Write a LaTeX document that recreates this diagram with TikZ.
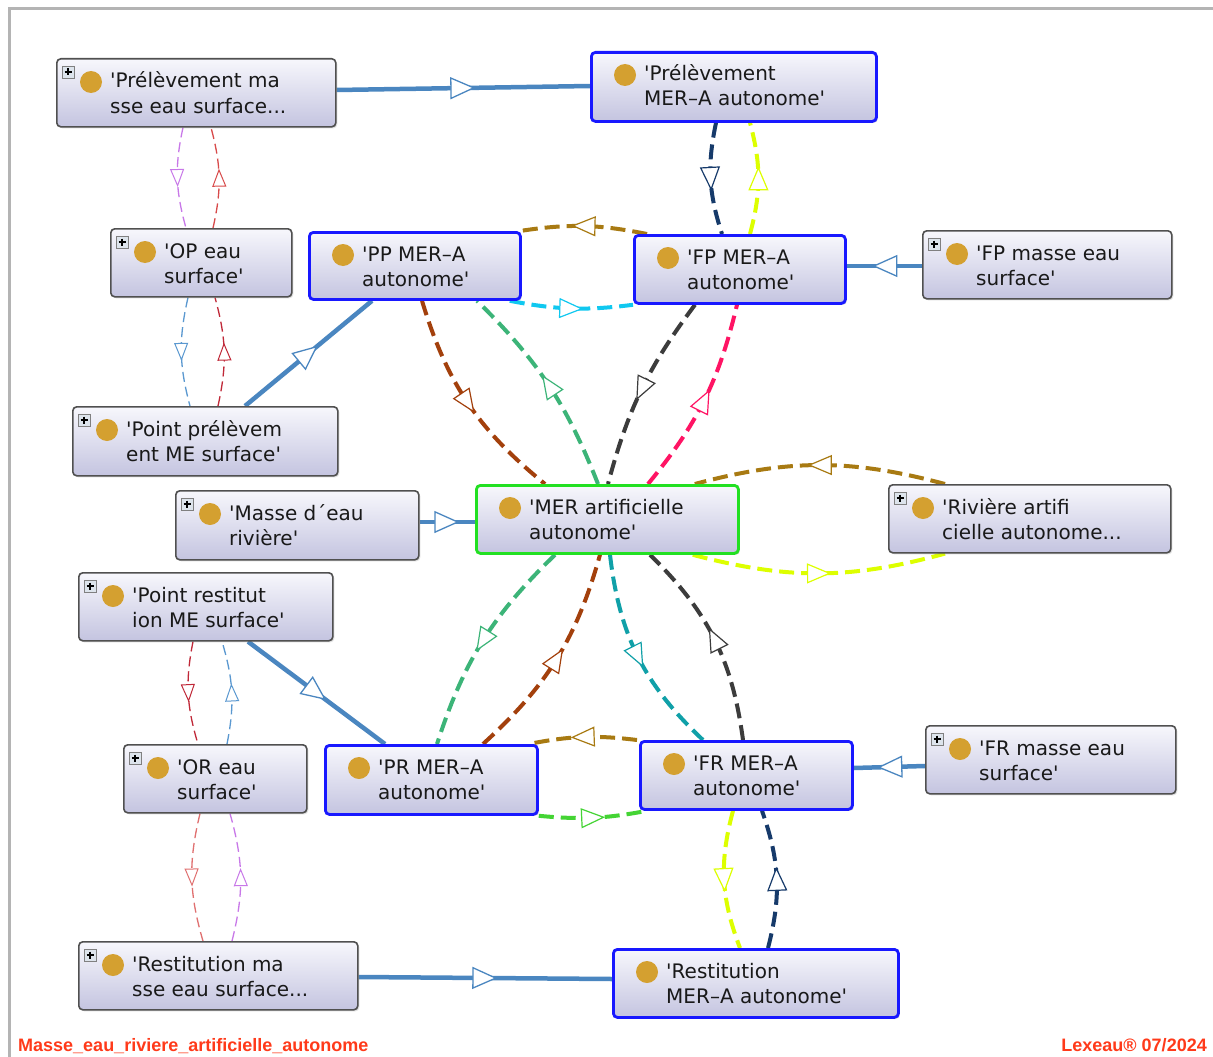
\documentclass[tikz,border=0pt]{standalone}
\usepackage{fontspec}
\setmainfont{DejaVu Sans}[Ligatures=TeXOff]
\newfontfamily\footf{Liberation Sans}[Ligatures=TeXOff]
\usetikzlibrary{arrows.meta,decorations.markings,calc,shadows}
\definecolor{cnavy}{HTML}{163A6A}
\definecolor{cyel}{HTML}{DDFF00}
\definecolor{cgold}{HTML}{A87A12}
\definecolor{ccyan}{HTML}{10C8F0}
\definecolor{cbrown}{HTML}{A3400C}
\definecolor{cgreen}{HTML}{3CB478}
\definecolor{cgray}{HTML}{3C3C3C}
\definecolor{cpink}{HTML}{FF1464}
\definecolor{cteal}{HTML}{10A0A8}
\definecolor{cbgreen}{HTML}{44D434}
\definecolor{cpurple}{HTML}{C878E8}
\definecolor{cred}{HTML}{D84A4A}
\definecolor{cdred}{HTML}{C02838}
\definecolor{clred}{HTML}{E07070}
\definecolor{cblue}{HTML}{5A98D0}
\definecolor{cconn}{HTML}{4A86C0}
\definecolor{dotc}{HTML}{D4A030}
\definecolor{boxtop}{HTML}{F7F7FC}
\definecolor{boxbot}{HTML}{C4C4E0}
\definecolor{grayb}{HTML}{505050}
\definecolor{blueb}{HTML}{1818FF}
\definecolor{greenb}{HTML}{22E022}
\definecolor{footred}{HTML}{FF3A1A}
\definecolor{pagebd}{HTML}{B4B4B4}
\definecolor{plusfill}{HTML}{DDE4EC}
\pgfdeclarelayer{back}
\pgfdeclarelayer{conn}
\pgfsetlayers{back,conn,main}
\tikzset{
  boxbase/.style={rectangle, rounded corners=4pt, top color=boxtop, bottom color=boxbot, inner sep=0pt, anchor=north west,
    drop shadow={shadow xshift=1.5pt, shadow yshift=-1.5pt, opacity=0.25}},
  graybox/.style={boxbase, draw=grayb, line width=1.6pt},
  bluebox/.style={boxbase, draw=blueb, line width=2.8pt},
  greenbox/.style={boxbase, draw=greenb, line width=2.8pt},
  labtxt/.style={anchor=base west, inner sep=0pt, font=\fontsize{20}{24}\selectfont, text=black!90},
  solidc/.style={cconn, line width=4.5pt,
    decoration={markings, mark=at position 0.5 with {\arrow[xshift=12pt]{Triangle[length=25pt,width=22pt,fill=white,line width=1.3pt]}}},
    postaction={decorate}},
  thickc/.style={line width=4pt, dash pattern=on 15pt off 7pt,
    decoration={markings, mark=at position 0.5 with {\arrow[xshift=12pt]{Triangle[length=24pt,width=20pt,fill=white,line width=1.2pt]}}},
    postaction={decorate}},
  thinc/.style={line width=1.3pt, dash pattern=on 10pt off 5pt,
    decoration={markings, mark=at position 0.5 with {\arrow[xshift=9pt]{Triangle[length=18pt,width=14pt,fill=white,line width=1pt]}}},
    postaction={decorate}},
}
% #1 name, #2 style, #3 x0, #4 y0, #5 x1, #6 y1, #7 line1, #8 line2
\newcommand\mknode[8]{%
  \node[#2, minimum width=\the\dimexpr#5pt-#3pt\relax, minimum height=\the\dimexpr#6pt-#4pt\relax] (#1) at (#3,-#4) {};
  \fill[dotc] ([xshift=35pt,yshift=-24pt]#1.north west) circle (11pt);
  \node[labtxt] (#1t1) at ([xshift=54pt,yshift=-30pt]#1.north west) {#7};
  \node[labtxt] (#1t2) at ([xshift=54pt,yshift=-55pt]#1.north west) {#8};
}
\newcommand\plusicon[1]{%
  \draw[fill=plusfill, draw=gray, line width=0.8pt] ([xshift=6pt,yshift=-8pt]#1.north west) rectangle ([xshift=18pt,yshift=-20pt]#1.north west);
  \draw[black, line width=1.2pt] ([xshift=12pt,yshift=-10.5pt]#1.north west) -- ([xshift=12pt,yshift=-17.5pt]#1.north west);
  \draw[black, line width=1.2pt] ([xshift=8.5pt,yshift=-14pt]#1.north west) -- ([xshift=15.5pt,yshift=-14pt]#1.north west);
}
\begin{document}
\begin{tikzpicture}[x=1pt,y=1pt]
\useasboundingbox (0,0) rectangle (1213,-1057);
\begin{pgfonlayer}{back}
\fill[white] (0,0) rectangle (1213,-1057);
\draw[pagebd, line width=3pt] (9,-1057) -- (9,-9) -- (1213,-9);
\end{pgfonlayer}

\mknode{PMS}{graybox}{56}{58}{335}{126}{'Prélèvement ma}{sse eau surface...}\plusicon{PMS}
\mknode{PMA}{bluebox}{590}{51}{875}{120}{'Prélèvement}{MER–A autonome'}
\mknode{OP}{graybox}{110}{228}{291}{296}{'OP eau}{surface'}\plusicon{OP}
\mknode{PP}{bluebox}{308}{231}{519}{298}{'PP MER–A}{autonome'}
\mknode{FP}{bluebox}{633}{234}{844}{302}{'FP MER–A}{autonome'}
\mknode{FPM}{graybox}{922}{230}{1171}{298}{'FP masse eau}{surface'}\plusicon{FPM}
\mknode{PPM}{graybox}{72}{406}{337}{475}{'Point prélèvem}{ent ME surface'}\plusicon{PPM}
\mknode{MDE}{graybox}{175}{490}{418}{559}{'Masse d´eau}{rivière'}\plusicon{MDE}
\mknode{MER}{greenbox}{475}{484}{737}{552}{'MER artificielle}{autonome'}
\mknode{RIV}{graybox}{888}{484}{1170}{552}{'Rivière artifi}{cielle autonome...}\plusicon{RIV}
\mknode{PRM}{graybox}{78}{572}{332}{640}{'Point restitut}{ion ME surface'}\plusicon{PRM}
\mknode{OR}{graybox}{123}{744}{306}{812}{'OR eau}{surface'}\plusicon{OR}
\mknode{PR}{bluebox}{324}{744}{536}{813}{'PR MER–A}{autonome'}
\mknode{FR}{bluebox}{639}{740}{851}{808}{'FR MER–A}{autonome'}
\mknode{FRM}{graybox}{925}{725}{1175}{793}{'FR masse eau}{surface'}\plusicon{FRM}
\mknode{RMS}{graybox}{78}{941}{357}{1009}{'Restitution ma}{sse eau surface...}\plusicon{RMS}
\mknode{RMA}{bluebox}{612}{948}{897}{1016}{'Restitution}{MER–A autonome'}

\begin{pgfonlayer}{conn}
% solid blue links
\draw[solidc] ([yshift=-32pt]PMS.north east) -- ([yshift=-35pt]PMA.north west);
\draw[solidc] ([yshift=-36pt]FPM.north west) -- ([yshift=-32pt]FP.north east);
\draw[solidc] ([xshift=173pt]PPM.north west) -- ([xshift=64pt]PP.south west);
\draw[solidc] ([yshift=-32pt]MDE.north east) -- ([yshift=-38pt]MER.north west);
\draw[solidc] ([xshift=170pt]PRM.south west) -- ([xshift=61pt]PR.north west);
\draw[solidc] ([yshift=-36pt]RMS.north east) -- ([yshift=-31pt]RMA.north west);
\draw[solidc] ([yshift=-41pt]FRM.north west) -- ([yshift=-28pt]FR.north east);
% thin dashed
\draw[thinc,cpurple] ([xshift=127pt]PMS.south west) to[bend right=14] ([xshift=76pt]OP.north west);
\draw[thinc,cred] ([xshift=103pt]OP.north west) to[bend right=14] ([xshift=155pt]PMS.south west);
\draw[thinc,cblue] ([xshift=78pt]OP.south west) to[bend right=14] ([xshift=118pt]PPM.north west);
\draw[thinc,cdred] ([xshift=146pt]PPM.north west) to[bend right=14] ([xshift=105pt]OP.south west);
\draw[thinc,cdred] ([xshift=115pt]PRM.south west) to[bend right=14] ([xshift=75pt]OR.north west);
\draw[thinc,cblue] ([xshift=104pt]OR.north west) to[bend right=14] ([xshift=144pt]PRM.south west);
\draw[thinc,clred] ([xshift=77pt]OR.south west) to[bend right=15] ([xshift=125pt]RMS.north west);
\draw[thinc,cpurple] ([xshift=154pt]RMS.north west) to[bend right=15] ([xshift=107pt]OR.south west);
% thick dashed
\draw[thickc,cnavy] ([xshift=126pt]PMA.south west) to[bend right=15] ([xshift=89pt]FP.north west);
\draw[thickc,cyel] ([xshift=117pt]FP.north west) to[bend right=15] ([xshift=160pt]PMA.south west);
\draw[thickc,cgold] ([xshift=14pt]FP.north west) to[bend right=10] ([xshift=-2pt]PP.north east);
\draw[thickc,ccyan] ([xshift=-12pt]PP.south east) to[bend right=9] (FP.south west);
\draw[thickc,cbrown] ([xshift=114pt]PP.south west) to[bend right=17] ([xshift=70pt]MER.north west);
\draw[thickc,cgreen] ([xshift=123pt]MER.north west) to[bend right=12] ([xshift=169pt]PP.south west);
\draw[thickc,cgray] ([xshift=62pt]FP.south west) to[bend right=11] ([xshift=133pt]MER.north west);
\draw[thickc,cpink] ([xshift=173pt]MER.north west) to[bend right=13] ([xshift=104pt]FP.south west);
\draw[thickc,cgold] ([xshift=57pt]RIV.north west) to[bend right=15] ([xshift=-45pt]MER.north east);
\draw[thickc,cyel] ([xshift=-47pt]MER.south east) to[bend right=15] ([xshift=57pt]RIV.south west);
\draw[thickc,cgreen] ([xshift=80pt]MER.south west) to[bend right=14] ([xshift=113pt]PR.north west);
\draw[thickc,cbrown] ([xshift=159pt]PR.north west) to[bend right=16] ([xshift=125pt]MER.south west);
\draw[thickc,cteal] ([xshift=135pt]MER.south west) to[bend right=20] ([xshift=64pt]FR.north west);
\draw[thickc,cgray] ([xshift=104pt]FR.north west) to[bend right=19] ([xshift=175pt]MER.south west);
\draw[thickc,cgold] ([xshift=-2pt]FR.north west) to[bend right=9] ([xshift=-10pt]PR.north east);
\draw[thickc,cbgreen] (PR.south east) to[bend right=8] ([xshift=8pt]FR.south west);
\draw[thickc,cyel] ([xshift=94pt]FR.south west) to[bend right=18] ([xshift=128pt]RMA.north west);
\draw[thickc,cnavy] ([xshift=156pt]RMA.north west) to[bend right=17] ([xshift=123pt]FR.south west);
\end{pgfonlayer}

\node[anchor=base west, inner sep=0pt, font=\footf\bfseries\fontsize{18}{20}\selectfont, text=footred] (ft1) at (18,-1051) {Masse\_eau\_riviere\_artificielle\_autonome};
\node[anchor=base east, inner sep=0pt, font=\footf\bfseries\fontsize{18}{20}\selectfont, text=footred] (ft2) at (1207,-1051) {Lexeau® 07/2024};
\end{tikzpicture}
\end{document}
